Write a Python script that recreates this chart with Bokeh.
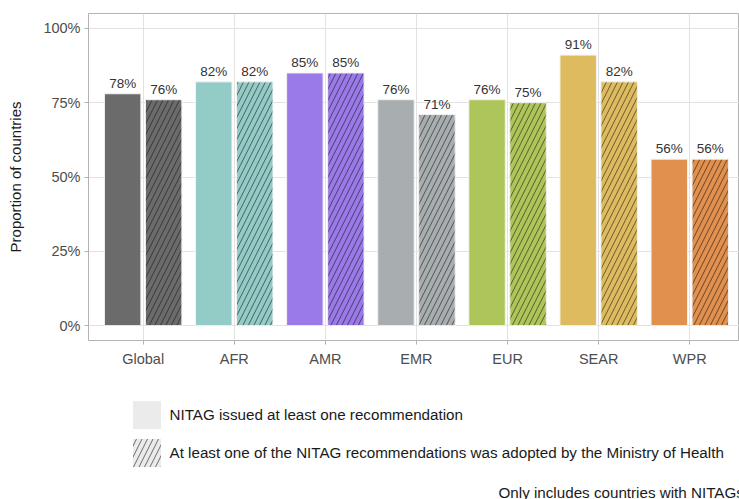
from bokeh.plotting import figure
from bokeh.layouts import column
from bokeh.models import (ColumnDataSource, Range1d, FixedTicker, NumeralTickFormatter,
                          Legend, LegendItem, Label)
from bokeh.transform import dodge
from bokeh.core.properties import value
from bokeh.embed import file_html
from bokeh.resources import INLINE

# ---- data ----
regions = ["Global", "AFR", "AMR", "EMR", "EUR", "SEAR", "WPR"]
issued = [78, 82, 85, 76, 76, 91, 56]      # % NITAG issued at least one recommendation
adopted = [76, 82, 85, 71, 75, 82, 56]     # % at least one recommendation adopted by MoH
colors = ["#6b6b6b", "#93ccc6", "#9a79e8", "#a8adaf", "#aec659", "#debb5e", "#e2904d"]
series_labels = ["NITAG issued at least one recommendation",
                 "At least one of the NITAG recommendations was adopted by the Ministry of Health"]
y_ticks = [0, 0.25, 0.5, 0.75, 1.0]
caption = "Only includes countries with NITAGs"

FONT = "Liberation Sans"
W = 739
H_MAIN = 372
H_LEG = 127
pos = list(range(1, len(regions) + 1))
src = ColumnDataSource(dict(
    pos=pos,
    issued=[v / 100 for v in issued],
    adopted=[v / 100 for v in adopted],
    issued_lbl=[f"{v}%" for v in issued],
    adopted_lbl=[f"{v}%" for v in adopted],
    color=colors,
))

HATCH = dict(hatch_pattern="/", hatch_color="#141414", hatch_scale=11,
             hatch_weight=0.8, hatch_alpha=0.75)

p = figure(width=W, height=H_MAIN,
           x_range=Range1d(0.4, 7.546), y_range=Range1d(-0.05, 1.05),
           output_backend="svg", toolbar_location=None,
           min_border_left=88, min_border_right=0, min_border_top=13, min_border_bottom=32,
           background_fill_color="white", border_fill_color="white")

off = 0.225
bw = 0.4
p.vbar(x=dodge("pos", -off), top="issued", bottom=0, width=bw, fill_color="color",
       line_color="#f2f2f2", line_width=1, source=src)
p.vbar(x=dodge("pos", off), top="adopted", bottom=0, width=bw, fill_color="color",
       line_color="#f2f2f2", line_width=1, source=src, **HATCH)

for col, lbl, o in (("issued", "issued_lbl", -off), ("adopted", "adopted_lbl", off)):
    p.text(x=dodge("pos", o), y=col, text=lbl, source=src, text_align="center",
           text_baseline="bottom", y_offset=-3, text_font=value(FONT),
           text_font_size="13.5px", text_color="#333333")

# axes
p.xaxis.ticker = FixedTicker(ticks=pos)
p.xaxis.major_label_overrides = {i: r for i, r in zip(pos, regions)}
p.yaxis.ticker = FixedTicker(ticks=y_ticks)
p.yaxis.formatter = NumeralTickFormatter(format="0%")
for ax in (p.xaxis, p.yaxis):
    ax.axis_line_color = None
    ax.minor_tick_line_color = None
    ax.major_tick_in = 0
    ax.major_tick_out = 4
    ax.major_tick_line_color = "#b3b3b3"
    ax.major_label_text_font = FONT
    ax.major_label_text_font_size = "14.5px"
    ax.major_label_text_color = "#4d4d4d"
p.xaxis.major_label_standoff = 6
p.yaxis.major_label_standoff = 4
p.yaxis.axis_label = "Proportion of countries"
p.yaxis.axis_label_text_font = FONT
p.yaxis.axis_label_text_font_size = "15px"
p.yaxis.axis_label_text_font_style = "normal"
p.yaxis.axis_label_text_color = "#1a1a1a"
p.yaxis.axis_label_standoff = 16

# grid
p.xgrid.ticker = FixedTicker(ticks=pos)
p.ygrid.ticker = FixedTicker(ticks=y_ticks)
p.grid.grid_line_color = "#e2e2e2"
p.grid.grid_line_width = 1
p.outline_line_color = "#b3b3b3"
p.outline_line_width = 1

# legend + caption panel (its frame is aligned with the main frame, left edge at 88px)
q = figure(width=W, height=H_LEG, x_range=Range1d(0, 1), y_range=Range1d(0, 1),
           x_axis_type=None, y_axis_type=None, output_backend="svg", toolbar_location=None,
           min_border=0, outline_line_color=None,
           background_fill_color="white", border_fill_color="white")
q.grid.visible = False
# legend-only renderers: a single zero-height bar placed outside the visible range
r1 = q.vbar(x=[-5], top=[-5], bottom=[-5], width=0.1, fill_color="#ebebeb", line_color=None)
r2 = q.vbar(x=[-5], top=[-5], bottom=[-5], width=0.1, fill_color="#ebebeb", line_color=None,
            **HATCH)
legend = Legend(items=[LegendItem(label=series_labels[0], renderers=[r1]),
                       LegendItem(label=series_labels[1], renderers=[r2])],
                location=(40.5, 29.5), orientation="vertical",
                glyph_width=35, glyph_height=35, spacing=3, padding=0, margin=0,
                label_standoff=6, border_line_color=None, background_fill_alpha=0,
                label_text_font=FONT, label_text_font_size="15.2px",
                label_text_color="#1a1a1a")
q.add_layout(legend, "center")
q.add_layout(Label(x=410, y=7, x_units="screen", y_units="screen", text=caption,
                   text_baseline="middle", text_font=FONT, text_font_size="15.2px",
                   text_color="#1a1a1a"))

layout = column(p, q, spacing=0)
open("out.html", "w").write(file_html(layout, INLINE))
